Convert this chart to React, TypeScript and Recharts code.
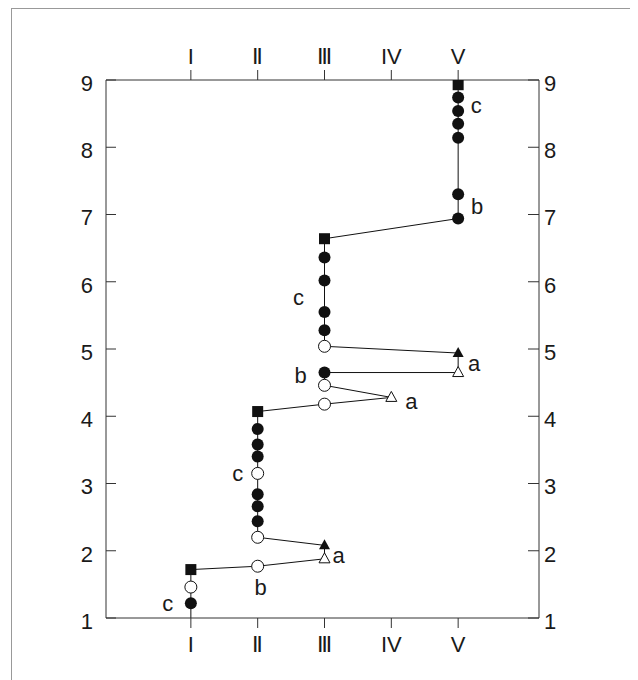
import React from 'react';
import { LineChart, Line, XAxis, YAxis } from 'recharts';

// stage labels on the x axis (I..V)
const stages = ['I', 'Ⅱ', 'Ⅲ', 'IV', 'V'];
const stageTicks = [1, 2, 3, 4, 5];
const levelTicks = [1, 2, 3, 4, 5, 6, 7, 8, 9];

// path through the stages, in drawing order
const pathStage = [1, 1, 1, 1, 2, 3, 3, 2, 2, 2, 2, 2, 2, 2, 2, 2, 3, 4, 3, 3, 5, 5, 3, 3, 3, 3, 3, 3, 5, 5, 5, 5, 5, 5, 5];
const pathLevel = [1.0, 1.22, 1.46, 1.72, 1.77, 1.88, 2.08, 2.2, 2.44, 2.66, 2.84, 3.15, 3.4, 3.58, 3.81, 4.07, 4.18, 4.28, 4.46, 4.65, 4.65, 4.94, 5.04, 5.28, 5.55, 6.02, 6.36, 6.64, 6.94, 7.3, 8.14, 8.35, 8.54, 8.74, 8.93];
// none, fc = filled circle, oc = open circle, sq = square, ot = open triangle, ft = filled triangle
const pathMarker = ['none', 'fc', 'oc', 'sq', 'oc', 'ot', 'ft', 'oc', 'fc', 'fc', 'fc', 'oc', 'fc', 'fc', 'fc', 'sq', 'oc', 'ot', 'oc', 'fc', 'ot', 'ft', 'oc', 'fc', 'fc', 'fc', 'fc', 'sq', 'fc', 'fc', 'fc', 'fc', 'fc', 'fc', 'sq'];

// letters written next to points (index into the path)
const tagAt = [1, 4, 5, 11, 17, 19, 20, 24, 28, 32];
const tagText = ['c', 'b', 'a', 'c', 'a', 'b', 'a', 'c', 'b', 'c'];

const tagOffset: [number, number][] = [
  [-23, 0], [3, 21], [14, -3], [-20, 0], [20, 4], [-24, 3], [16, -9], [-26, -15], [19, -12], [18, -5],
];

const data = pathStage.map((x, i) => ({ x, y: pathLevel[i], kind: pathMarker[i] }));

const font = '"Liberation Sans", Arial, sans-serif';
const ink = '#111';
const textCol = '#1a1a1a';

const renderMarker = (props: any) => {
  const { cx, cy, index, payload } = props;
  const kind = payload.kind;
  let shape: React.ReactNode = null;
  if (kind === 'fc') shape = <circle cx={cx} cy={cy} r={6} fill={ink} />;
  if (kind === 'oc') shape = <circle cx={cx} cy={cy} r={6} fill="#fff" stroke={ink} strokeWidth={1} />;
  if (kind === 'sq') shape = <rect x={cx - 5.5} y={cy - 5.5} width={11} height={11} fill={ink} />;
  if (kind === 'ft' || kind === 'ot') {
    const pts = `${cx},${cy - 6} ${cx - 5.5},${cy + 4} ${cx + 5.5},${cy + 4}`;
    shape = kind === 'ft'
      ? <polygon points={pts} fill={ink} />
      : <polygon points={pts} fill="#fff" stroke={ink} strokeWidth={1} />;
  }
  const t = tagAt.indexOf(index);
  return (
    <g key={`m${index}`}>
      {shape}
      {t >= 0 && (
        <text
          x={cx + tagOffset[t][0]}
          y={cy + tagOffset[t][1]}
          textAnchor="middle"
          dominantBaseline="central"
          fontSize={22}
          fontFamily={font}
          fill={textCol}
        >
          {tagText[t]}
        </text>
      )}
    </g>
  );
};

const tickStyle = { fill: textCol, fontSize: 22, fontFamily: font };
const axisStroke = '#333';

export default function App() {
  return (
    <div style={{ position: 'relative', width: 630, height: 672, overflow: 'hidden', fontFamily: font }}>
      <div style={{ position: 'absolute', left: 3, top: 0, width: 700, height: 700, border: '1px solid #999' }} />
      <LineChart
        width={630}
        height={672}
        data={data}
        style={{ position: 'absolute', left: 0, top: 0 }}
        margin={{ top: 32, right: 59, bottom: 22, left: 58 }}
      >
        <XAxis
          xAxisId="bottom"
          orientation="bottom"
          type="number"
          dataKey="x"
          domain={[-0.27, 6.21]}
          ticks={stageTicks}
          tickFormatter={(v: number) => stages[v - 1]}
          height={40}
          tickSize={10}
          tickMargin={8}
          tick={tickStyle}
          stroke={axisStroke}
          allowDataOverflow
        />
        <XAxis
          xAxisId="top"
          orientation="top"
          type="number"
          dataKey="x"
          domain={[-0.27, 6.21]}
          ticks={stageTicks}
          tickFormatter={(v: number) => stages[v - 1]}
          height={40}
          tickSize={10}
          tickMargin={6}
          tick={tickStyle}
          stroke={axisStroke}
          allowDataOverflow
        />
        <YAxis
          yAxisId="left"
          orientation="left"
          type="number"
          domain={[1, 9]}
          ticks={levelTicks}
          width={40}
          tickSize={-10}
          tickMargin={23}
          tick={{ ...tickStyle, dy: 3 }}
          stroke={axisStroke}
          allowDataOverflow
        />
        <YAxis
          yAxisId="right"
          orientation="right"
          type="number"
          domain={[1, 9]}
          ticks={levelTicks}
          width={40}
          tickSize={-11}
          tickMargin={16}
          tick={{ ...tickStyle, dy: 3, textAnchor: 'start' }}
          stroke={axisStroke}
          allowDataOverflow
        />
        <Line
          xAxisId="top"
          yAxisId="right"
          dataKey="y"
          stroke="none"
          dot={false}
          activeDot={false}
          isAnimationActive={false}
        />
        <Line
          xAxisId="bottom"
          yAxisId="left"
          dataKey="y"
          stroke={ink}
          strokeWidth={1}
          dot={renderMarker}
          activeDot={false}
          isAnimationActive={false}
        />
      </LineChart>
    </div>
  );
}
